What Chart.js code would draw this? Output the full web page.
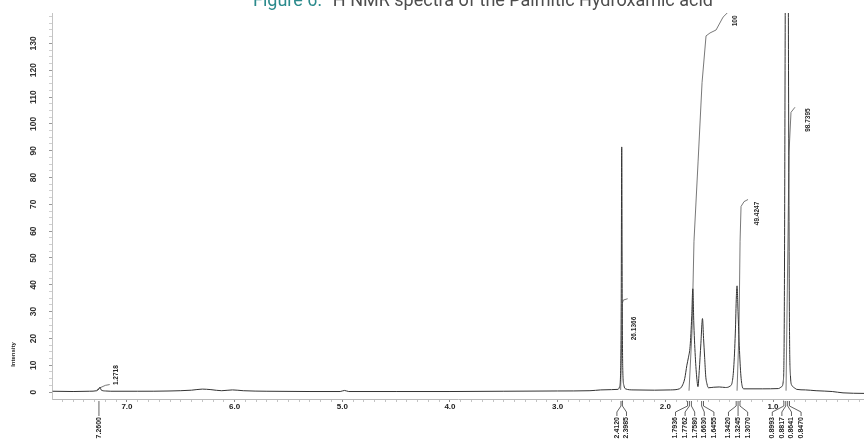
<!DOCTYPE html>
<html><head><meta charset="utf-8">
<script src="https://cdn.jsdelivr.net/npm/chart.js@4.4.1/dist/chart.umd.min.js"></script>
<style>
html,body{margin:0;padding:0;background:#fff;overflow:hidden}
#wrap{position:relative;width:864px;height:447px;overflow:hidden}
#title{position:absolute;left:253px;top:-9px;white-space:nowrap;font-family:Roboto,'Open Sans',sans-serif;font-size:18px;line-height:18px;color:#4d4d4d;z-index:2}
#title span{color:#2b8a8c}
canvas{position:absolute;left:0;top:0}
</style></head><body>
<div id="wrap"><div id="title"><span>Figure 6:</span> ¹H NMR spectra of the Palmitic Hydroxamic acid</div><canvas id="c" width="864" height="447"></canvas></div>
<script>
// ---- axis ticks ----
const xTickValues = [7, 6, 5, 4, 3, 2, 1];
const yTickValues = [0, 10, 20, 30, 40, 50, 60, 70, 80, 90, 100, 110, 120, 130];

// ---- spectrum (chemical shift in ppm, intensity) ----
const ppm = [7.69, 7.50, 7.35, 7.28, 7.26, 7.25, 7.24, 7.20, 7.15, 6.90, 6.60, 6.40, 6.30, 6.22, 6.12, 6.02, 5.92, 5.70, 5.30,
  5.02, 4.98, 4.94, 4.50, 4.00, 3.50, 3.00, 2.70, 2.60, 2.50, 2.44, 2.425, 2.415, 2.41, 2.405, 2.40, 2.395, 2.385, 2.37, 2.30,
  2.10, 1.95, 1.87, 1.845, 1.82, 1.80, 1.785, 1.77, 1.755, 1.745, 1.735, 1.72, 1.705, 1.697, 1.685, 1.67, 1.655, 1.645, 1.635,
  1.625, 1.613, 1.60, 1.55, 1.50, 1.44, 1.40, 1.38, 1.365, 1.35, 1.34, 1.334, 1.325, 1.315, 1.30, 1.285, 1.27, 1.10, 0.95,
  0.92, 0.905, 0.895, 0.888, 0.882, 0.862, 0.856, 0.848, 0.838, 0.825, 0.81, 0.795, 0.78, 0.70, 0.60, 0.45, 0.35, 0.155];
const intensity = [0.3, 0.2, 0.3, 0.5, 1.2, 1.8, 0.8, 0.4, 0.3, 0.3, 0.4, 0.7, 1.1, 0.9, 0.5, 0.8, 0.5, 0.3, 0.2,
  0.2, 0.6, 0.2, 0.2, 0.2, 0.3, 0.4, 0.5, 0.8, 0.9, 1.0, 2.0, 8, 30, 91.4, 30, 8, 2.5, 1.2, 0.8,
  0.7, 0.8, 1.2, 2.2, 5, 10, 13, 17, 28, 38.5, 25, 12, 4, 2, 8, 18, 27.4, 20, 13,
  6, 3, 1.6, 1.8, 1.9, 1.7, 2.2, 3.5, 9, 22, 36, 39.6, 30, 19, 7, 2, 1.2, 1.2, 1.3,
  2, 4, 30, 120, 200, 200, 120, 30, 6, 2.5, 1.8, 1.4, 1.0, 0.8, 0.5, 0.2, -0.3, -0.5];

// ---- integral curves ----
const int1Ppm = [7.28, 7.25, 7.20, 7.16];
const int1Val = [0.8, 1.6, 2.5, 2.8];
const intAPpm = [2.415, 2.405, 2.40, 2.39, 2.35];
const intAVal = [0.8, 20, 33, 34.3, 34.8];
const intBPpm = [1.780, 1.752, 1.734, 1.696, 1.659, 1.622, 1.585, 1.529, 1.464, 1.409];
const intBVal = [0.5, 22.9, 56.2, 85.8, 115.4, 132.8, 133.9, 135, 139.8, 142];
const intCPpm = [1.334, 1.316, 1.306, 1.297, 1.269, 1.232];
const intCVal = [0.5, 22.9, 56.2, 69.2, 71, 71.8];
const intDPpm = [0.879, 0.851, 0.833, 0.796];
const intDVal = [0.5, 89.5, 104.3, 106.2];

// ---- integral value labels ----
const integralTexts = ["1.2718", "26.1366", "49.4247", "98.7395", "100"];
const integralTextPpm = [7.10, 2.29, 1.149, 0.675, 1.353];
const integralTextVal = [6.3, 23.7, 66.6, 101.4, 138.4];

// ---- picked peaks ----
const peakLabels = ["7.2600", "2.4120", "2.3985", "1.7936", "1.7762", "1.7580", "1.6630", "1.6455",
  "1.3420", "1.3245", "1.3070", "0.8993", "0.8817", "0.8641", "0.8470"];

const yAxisTitle = "Intensity";

const toXY = (xs, ys) => xs.map((x, i) => ({x: x, y: ys[i]}));

const annot = {
  id: 'annot',
  afterDraw(chart) {
    const ctx = chart.ctx, xs = chart.scales.x, ys = chart.scales.y;
    ctx.save();
    ctx.fillStyle = '#262626';
    ctx.textBaseline = 'middle';
    // integral labels
    ctx.font = 'bold 6.5px "Liberation Sans", Arial, sans-serif';
    integralTexts.forEach((t, i) => {
      ctx.save();
      ctx.translate(xs.getPixelForValue(integralTextPpm[i]), ys.getPixelForValue(integralTextVal[i]));
      ctx.rotate(-Math.PI / 2);
      ctx.textAlign = 'center';
      ctx.fillText(t, 0, 0);
      ctx.restore();
    });
    // y axis title
    ctx.save();
    ctx.font = 'bold 6px "Liberation Sans", Arial, sans-serif';
    ctx.translate(13, ys.getPixelForValue(14));
    ctx.rotate(-Math.PI / 2);
    ctx.textAlign = 'center';
    ctx.fillText(yAxisTitle, 0, 0);
    ctx.restore();
    // peak labels with spreading
    const S = 9.6;
    const items = peakLabels.map(t => ({t: t, px: xs.getPixelForValue(parseFloat(t))})).sort((a, b) => a.px - b.px);
    let clusters = items.map(it => ({items: [it], c: it.px}));
    let merged = true;
    while (merged) {
      merged = false;
      for (let i = 0; i < clusters.length - 1; i++) {
        const a = clusters[i], b = clusters[i + 1];
        const aR = a.c + (a.items.length - 1) / 2 * S;
        const bL = b.c - (b.items.length - 1) / 2 * S;
        if (bL - aR < S) {
          const its = a.items.concat(b.items);
          const c = its.reduce((s, it) => s + it.px, 0) / its.length;
          clusters.splice(i, 2, {items: its, c: c});
          merged = true;
          break;
        }
      }
    }
    const axisY = chart.chartArea.bottom;
    ctx.strokeStyle = '#3a3a3a';
    ctx.lineWidth = 0.8;
    ctx.font = 'bold 7px "Liberation Sans", Arial, sans-serif';
    clusters.forEach(cl => {
      const n = cl.items.length;
      cl.items.forEach((it, k) => {
        const lx = cl.c + (k - (n - 1) / 2) * S;
        ctx.beginPath();
        ctx.moveTo(it.px, axisY + 2);
        ctx.lineTo(it.px, axisY + 7);
        ctx.lineTo(lx, axisY + 13);
        ctx.lineTo(lx, axisY + 17);
        ctx.stroke();
        ctx.save();
        ctx.translate(lx, axisY + 18);
        ctx.rotate(-Math.PI / 2);
        ctx.textAlign = 'right';
        ctx.fillText(it.t, 0, 0);
        ctx.restore();
      });
    });
    ctx.restore();
  }
};

const lineDs = (data, color, w, mono) => ({
  data: data, borderColor: color, borderWidth: w, pointRadius: 0, fill: false,
  cubicInterpolationMode: mono ? 'monotone' : 'default', tension: 0
});

new Chart(document.getElementById('c'), {
  type: 'line',
  data: {
    datasets: [
      lineDs(toXY(ppm, intensity), '#333333', 1, true),
      lineDs(toXY(int1Ppm, int1Val), '#555555', 0.8, false),
      lineDs(toXY(intAPpm, intAVal), '#555555', 0.8, false),
      lineDs(toXY(intBPpm, intBVal), '#555555', 0.8, false),
      lineDs(toXY(intCPpm, intCVal), '#555555', 0.8, false),
      lineDs(toXY(intDPpm, intDVal), '#555555', 0.8, false)
    ]
  },
  options: {
    responsive: false, animation: false, devicePixelRatio: 1,
    layout: {padding: {top: 10, left: 0, right: 0, bottom: 0}},
    plugins: {legend: {display: false}, tooltip: {enabled: false}, title: {display: false}},
    scales: {
      x: {
        type: 'linear', reverse: true, min: 0.155, max: 7.696,
        afterBuildTicks(s) {
          const t = [];
          for (let v = 0.2; v < 7.65; v += 0.1) t.push({value: Math.round(v * 10) / 10});
          s.ticks = t;
        },
        afterFit(s) { s.height = 48; },
        grid: {drawOnChartArea: false, drawTicks: true, tickLength: 3,
          color: c => xTickValues.includes(c.tick && c.tick.value) ? '#888' : '#c4c4c4'},
        border: {display: true, color: '#b8b8b8', dash: [4, 3]},
        ticks: {autoSkip: false, maxRotation: 0, minRotation: 0, padding: 0, color: '#222',
          font: {family: '"Liberation Sans", Arial, sans-serif', size: 8, weight: 'bold'},
          callback: v => xTickValues.includes(v) ? v.toFixed(1) : ''}
      },
      y: {
        type: 'linear', min: -2.59, max: 141.3,
        afterBuildTicks(s) {
          const t = [];
          for (let v = 0; v <= 140; v += 2.5) t.push({value: v});
          s.ticks = t;
        },
        afterFit(s) { s.width = 52; },
        grid: {drawOnChartArea: false, drawTicks: true, tickLength: 3,
          color: c => yTickValues.includes(c.tick && c.tick.value) ? '#999' : '#cfcfcf'},
        border: {display: true, color: '#c4c4c4', dash: [2, 2]},
        ticks: {autoSkip: false, minRotation: 90, maxRotation: 90, crossAlign: 'center', padding: 8, color: '#333',
          font: {family: '"Liberation Sans", Arial, sans-serif', size: 8.5, weight: 'bold'},
          callback: v => yTickValues.includes(v) ? String(v) : ''}
      }
    }
  },
  plugins: [annot]
});
</script>
</body></html>
